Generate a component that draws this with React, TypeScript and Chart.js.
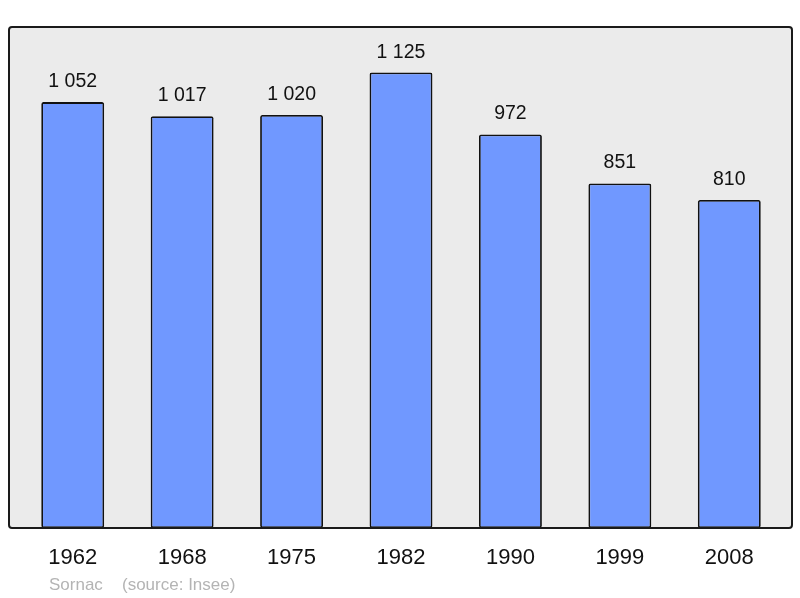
import React, { useEffect, useRef } from "react";
import { Chart, registerables } from "chart.js";

Chart.register(...registerables);

const years = ["1962", "1968", "1975", "1982", "1990", "1999", "2008"];
const population = [1052, 1017, 1020, 1125, 972, 851, 810];
const footerPlace = "Sornac";
const footerSource = "(source: Insee)";

const fmt = (v: number) => {
  const s = String(v);
  return s.length > 3 ? s.slice(0, s.length - 3) + " " + s.slice(-3) : s;
};

const boxPlugin = {
  id: "box",
  beforeDraw(chart: any) {
    const { ctx, chartArea } = chart;
    const l = chartArea.left - 9;
    const r = chartArea.right + 8;
    const t = chartArea.top;
    const b = chartArea.bottom;
    ctx.save();
    ctx.beginPath();
    ctx.roundRect(l, t, r - l, b - t, 3);
    ctx.fillStyle = "#ebebeb";
    ctx.fill();
    ctx.restore();
  },
  afterDatasetsDraw(chart: any) {
    const { ctx, chartArea } = chart;
    const l = chartArea.left - 9;
    const r = chartArea.right + 8;
    const t = chartArea.top;
    const b = chartArea.bottom;
    ctx.save();
    ctx.beginPath();
    ctx.roundRect(l, t, r - l, b - t, 3);
    ctx.lineWidth = 2;
    ctx.strokeStyle = "#1a1a1a";
    ctx.stroke();
    // value labels
    const meta = chart.getDatasetMeta(0);
    ctx.font = "19.5px 'Liberation Sans', Arial, sans-serif";
    ctx.fillStyle = "#111";
    ctx.textAlign = "center";
    ctx.textBaseline = "alphabetic";
    meta.data.forEach((el: any, i: number) => {
      ctx.fillText(fmt(population[i]), el.x, el.y - 15);
    });
    // footer
    ctx.font = "17px 'Liberation Sans', Arial, sans-serif";
    ctx.fillStyle = "#b4b4b4";
    ctx.textAlign = "left";
    ctx.fillText(footerPlace, 49, 590);
    ctx.fillText(footerSource, 122, 590);
    ctx.restore();
  },
};

export default function App() {
  const ref = useRef<HTMLCanvasElement>(null);
  useEffect(() => {
    if (!ref.current) return;
    const chart = new Chart(ref.current, {
      type: "bar",
      data: {
        labels: years,
        datasets: [
          {
            data: population,
            backgroundColor: "#7098ff",
            borderColor: "#111",
            borderWidth: 1.8,
            borderRadius: 2,
            borderSkipped: false,
            barPercentage: 0.575,
            categoryPercentage: 1,
          },
        ],
      },
      options: {
        animation: false,
        responsive: false,
        layout: { padding: { left: 18, right: 16, top: 27, bottom: 0 } },
        plugins: { legend: { display: false }, tooltip: { enabled: false } },
        scales: {
          x: {
            grid: { display: false, drawTicks: false },
            border: { display: false },
            afterFit: (scale: any) => {
              scale.height = 70;
            },
            ticks: {
              color: "#111",
              padding: 17,
              font: { size: 22, family: "'Liberation Sans', Arial, sans-serif" },
            },
          },
          y: { display: false, min: 0, max: 1237.5 },
        },
      },
      plugins: [boxPlugin],
    });
    return () => chart.destroy();
  }, []);
  return (
    <div style={{ position: "fixed", left: 0, top: 0, width: 800, height: 598, background: "#fff" }}>
      <canvas ref={ref} width={800} height={598} />
    </div>
  );
}
